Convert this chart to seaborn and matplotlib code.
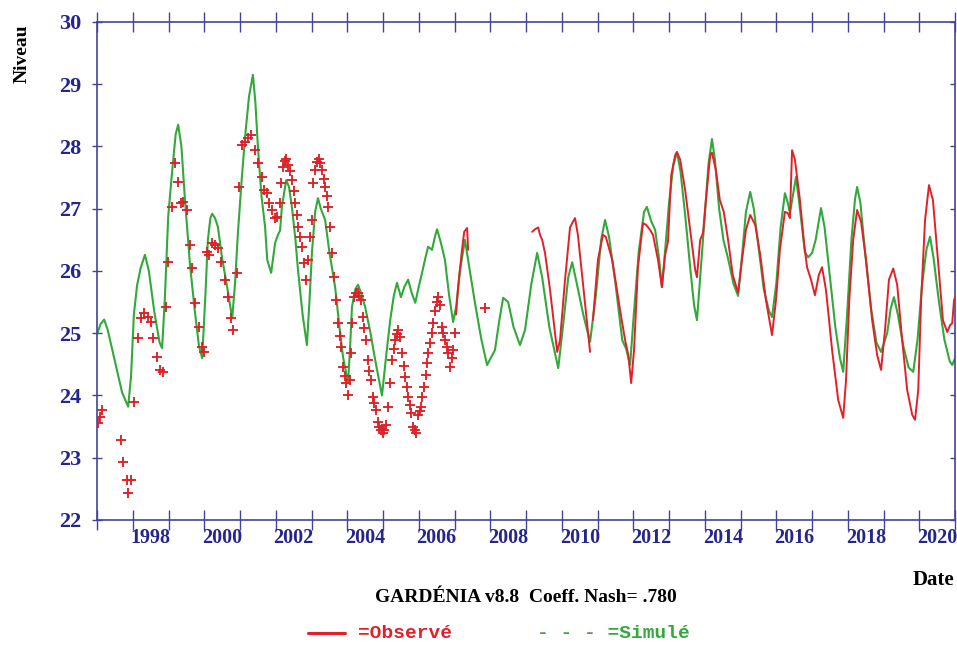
import numpy as np
import pandas as pd
import matplotlib
matplotlib.use("Agg")
import matplotlib.pyplot as plt
from matplotlib.lines import Line2D
from matplotlib.ticker import FixedLocator, NullFormatter
import seaborn as sns

# Simulated groundwater level (green line)
sim_year = [1997.00, 1997.10, 1997.20, 1997.30, 1997.50, 1997.70, 1997.87, 1997.95, 1998.03, 1998.12,
            1998.22, 1998.34, 1998.45, 1998.60, 1998.75, 1998.82, 1998.90, 1998.99, 1999.10, 1999.20,
            1999.27, 1999.36, 1999.46, 1999.60, 1999.74, 1999.85, 1999.94, 2000.03, 2000.10, 2000.17,
            2000.22, 2000.30, 2000.38, 2000.50, 2000.64, 2000.78, 2000.86, 2000.94, 2001.05, 2001.14,
            2001.25, 2001.36, 2001.43, 2001.50, 2001.60, 2001.70, 2001.76, 2001.87, 2001.98, 2002.06,
            2002.12, 2002.17, 2002.29, 2002.37, 2002.45, 2002.55, 2002.62, 2002.75, 2002.87, 2002.95,
            2003.01, 2003.10, 2003.18, 2003.26, 2003.38, 2003.50, 2003.66, 2003.78, 2003.88, 2004.02,
            2004.08, 2004.13, 2004.22, 2004.30, 2004.40, 2004.50, 2004.65, 2004.78, 2004.97, 2005.08,
            2005.20, 2005.30, 2005.39, 2005.50, 2005.60, 2005.70, 2005.80, 2005.90, 2006.00, 2006.09,
            2006.18, 2006.26, 2006.37, 2006.45, 2006.51, 2006.62, 2006.73, 2006.85, 2006.96, 2007.05,
            2007.15, 2007.29, 2007.40, 2007.57, 2007.75, 2007.91, 2008.13, 2008.25, 2008.36, 2008.50,
            2008.65, 2008.83, 2008.97, 2009.15, 2009.31, 2009.45, 2009.65, 2009.90, 2010.05, 2010.18,
            2010.29, 2010.40, 2010.60, 2010.79, 2010.95, 2011.10, 2011.21, 2011.32, 2011.50, 2011.69,
            2011.80, 2011.91, 2012.00, 2012.15, 2012.30, 2012.38, 2012.50, 2012.61, 2012.72, 2012.80,
            2012.90, 2013.00, 2013.12, 2013.22, 2013.32, 2013.45, 2013.60, 2013.70, 2013.78, 2013.87,
            2014.00, 2014.10, 2014.20, 2014.28, 2014.40, 2014.52, 2014.65, 2014.80, 2014.93, 2015.05,
            2015.15, 2015.27, 2015.37, 2015.50, 2015.65, 2015.80, 2015.88, 2016.00, 2016.12, 2016.24,
            2016.32, 2016.38, 2016.46, 2016.55, 2016.64, 2016.72, 2016.80, 2016.89, 2017.00, 2017.10,
            2017.25, 2017.35, 2017.50, 2017.65, 2017.78, 2017.87, 2017.98, 2018.10, 2018.20, 2018.26,
            2018.35, 2018.50, 2018.65, 2018.80, 2018.93, 2019.10, 2019.20, 2019.29, 2019.40, 2019.55,
            2019.70, 2019.83, 2019.95, 2020.08, 2020.20, 2020.30, 2020.40, 2020.55, 2020.70, 2020.85,
            2020.92, 2021.00]
sim_level = [24.98, 25.15, 25.22, 25.05, 24.55, 24.05, 23.82, 24.30, 25.30, 25.77,
             26.05, 26.26, 26.00, 25.35, 24.85, 24.76, 25.60, 26.87, 27.60, 28.20,
             28.35, 28.00, 27.14, 26.10, 25.33, 24.80, 24.60, 25.60, 26.50, 26.85,
             26.92, 26.85, 26.71, 26.20, 25.74, 25.24, 25.80, 26.61, 27.50, 28.15,
             28.80, 29.15, 28.70, 27.99, 27.20, 26.71, 26.18, 25.97, 26.45, 26.58,
             26.65, 27.03, 27.46, 27.35, 27.03, 26.50, 26.02, 25.30, 24.81, 25.60,
             26.29, 26.95, 27.17, 27.00, 26.82, 26.30, 25.74, 25.10, 24.62, 24.20,
             24.80, 25.42, 25.70, 25.78, 25.62, 25.42, 25.00, 24.57, 24.00, 24.60,
             25.21, 25.60, 25.81, 25.58, 25.75, 25.86, 25.65, 25.49, 25.75, 25.97,
             26.20, 26.39, 26.34, 26.55, 26.67, 26.45, 26.18, 25.60, 25.18, 25.45,
             26.00, 26.50, 26.10, 25.49, 24.90, 24.49, 24.73, 25.20, 25.57, 25.50,
             25.10, 24.81, 25.05, 25.80, 26.29, 25.90, 25.10, 24.44, 25.20, 25.90,
             26.14, 25.85, 25.30, 24.86, 25.60, 26.50, 26.82, 26.55, 25.80, 24.89,
             24.75, 24.49, 25.20, 26.30, 26.95, 27.03, 26.80, 26.66, 26.20, 25.74,
             26.40, 27.10, 27.70, 27.91, 27.60, 26.90, 26.00, 25.45, 25.21, 25.90,
             26.90, 27.70, 28.12, 27.80, 27.00, 26.50, 26.20, 25.80, 25.60, 26.30,
             26.95, 27.27, 27.00, 26.40, 25.70, 25.35, 25.26, 25.80, 26.70, 27.25,
             27.10, 26.93, 27.20, 27.51, 27.10, 26.70, 26.30, 26.22, 26.29, 26.50,
             27.01, 26.70, 25.90, 25.10, 24.60, 24.38, 25.30, 26.50, 27.15, 27.35,
             27.10, 26.20, 25.40, 24.85, 24.70, 25.00, 25.40, 25.58, 25.30, 24.80,
             24.45, 24.38, 24.90, 25.80, 26.35, 26.55, 26.20, 25.50, 24.90, 24.55,
             24.49, 24.60]

# Observed levels, individual measurements ('+')
obs_pts_year = [1997.03, 1997.08, 1997.14, 1997.67, 1997.73, 1997.84, 1997.87, 1997.95, 1998.03, 1998.15,
                1998.23, 1998.31, 1998.43, 1998.51, 1998.57, 1998.68, 1998.76, 1998.85, 1998.93, 1998.99,
                1999.10, 1999.18, 1999.27, 1999.35, 1999.41, 1999.52, 1999.60, 1999.66, 1999.74, 1999.85,
                1999.94, 1999.99, 2000.08, 2000.13, 2000.22, 2000.30, 2000.38, 2000.47, 2000.58, 2000.66,
                2000.75, 2000.80, 2000.92, 2000.97, 2001.06, 2001.14, 2001.22, 2001.31, 2001.42, 2001.50,
                2001.62, 2001.67, 2001.76, 2001.81, 2001.90, 2001.98, 2002.03, 2002.12, 2002.15, 2002.20,
                2002.25, 2002.29, 2002.34, 2002.40, 2002.45, 2002.50, 2002.54, 2002.58, 2002.62, 2002.68,
                2002.73, 2002.79, 2002.85, 2002.90, 2002.96, 2003.01, 2003.04, 2003.10, 2003.15, 2003.21,
                2003.25, 2003.29, 2003.34, 2003.38, 2003.42, 2003.46, 2003.52, 2003.57, 2003.63, 2003.69,
                2003.74, 2003.79, 2003.83, 2003.88, 2003.93, 2003.97, 2004.02, 2004.08, 2004.10, 2004.13,
                2004.19, 2004.25, 2004.30, 2004.34, 2004.38, 2004.44, 2004.48, 2004.52, 2004.58, 2004.62,
                2004.66, 2004.72, 2004.76, 2004.80, 2004.86, 2004.90, 2004.94, 2005.00, 2005.04, 2005.08,
                2005.14, 2005.20, 2005.25, 2005.30, 2005.34, 2005.38, 2005.42, 2005.48, 2005.53, 2005.58,
                2005.62, 2005.66, 2005.70, 2005.74, 2005.78, 2005.84, 2005.88, 2005.92, 2005.98, 2006.02,
                2006.06, 2006.10, 2006.15, 2006.19, 2006.23, 2006.27, 2006.31, 2006.36, 2006.40, 2006.45,
                2006.51, 2006.54, 2006.60, 2006.65, 2006.69, 2006.73, 2006.78, 2006.82, 2006.87, 2006.92,
                2006.96, 2007.01, 2007.85]
obs_pts_level = [23.56, 23.65, 23.77, 23.29, 22.93, 22.64, 22.43, 22.64, 23.90, 24.92,
                 25.24, 25.33, 25.26, 25.18, 24.92, 24.62, 24.41, 24.38, 25.42, 26.14,
                 27.03, 27.73, 27.43, 27.09, 27.11, 26.98, 26.42, 26.05, 25.49, 25.10,
                 24.78, 24.70, 26.31, 26.26, 26.45, 26.42, 26.37, 26.14, 25.86, 25.58,
                 25.24, 25.05, 25.97, 27.35, 28.02, 28.07, 28.14, 28.18, 27.94, 27.73,
                 27.51, 27.30, 27.25, 27.09, 26.98, 26.85, 26.87, 27.09, 27.41, 27.67,
                 27.76, 27.80, 27.70, 27.60, 27.46, 27.28, 27.09, 26.90, 26.70, 26.55,
                 26.39, 26.13, 25.86, 26.18, 26.55, 26.82, 27.41, 27.62, 27.75, 27.80,
                 27.74, 27.62, 27.48, 27.35, 27.20, 27.03, 26.70, 26.29, 25.90, 25.53,
                 25.16, 24.95, 24.78, 24.46, 24.32, 24.20, 24.01, 24.25, 24.68, 25.16,
                 25.58, 25.64, 25.65, 25.60, 25.53, 25.26, 25.08, 24.89, 24.57, 24.40,
                 24.25, 23.98, 23.88, 23.77, 23.57, 23.50, 23.45, 23.40, 23.45, 23.53,
                 23.82, 24.20, 24.57, 24.75, 24.89, 24.98, 25.05, 24.94, 24.68, 24.48,
                 24.30, 24.14, 23.98, 23.85, 23.72, 23.49, 23.44, 23.40, 23.69, 23.75,
                 23.82, 23.98, 24.14, 24.33, 24.52, 24.68, 24.84, 25.00, 25.16, 25.35,
                 25.50, 25.58, 25.45, 25.10, 25.00, 24.89, 24.78, 24.68, 24.46, 24.60,
                 24.73, 25.00, 25.41]

# Observed levels, continuous records (red line), three pieces
obs_a_year = [2007.04, 2007.10, 2007.20, 2007.27, 2007.35, 2007.38]
obs_a_level = [25.30, 25.74, 26.30, 26.63, 26.69, 26.34]

obs_b_year = [2009.17, 2009.25, 2009.34, 2009.39, 2009.45, 2009.53, 2009.67, 2009.87, 2009.95, 2010.09,
              2010.23, 2010.31, 2010.37, 2010.45, 2010.64, 2010.79]
obs_b_level = [26.63, 26.67, 26.70, 26.58, 26.50, 26.29, 25.70, 24.70, 24.89, 25.86,
               26.70, 26.79, 26.85, 26.58, 25.53, 24.70]

obs_c_year = [2010.87, 2011.01, 2011.15, 2011.23, 2011.41, 2011.63, 2011.77, 2011.86, 2011.94, 2012.02,
              2012.13, 2012.27, 2012.36, 2012.47, 2012.55, 2012.69, 2012.80, 2012.89, 2012.97, 2013.06,
              2013.17, 2013.22, 2013.31, 2013.45, 2013.59, 2013.73, 2013.78, 2013.87, 2013.95, 2014.03,
              2014.15, 2014.20, 2014.31, 2014.42, 2014.53, 2014.65, 2014.78, 2014.93, 2015.04, 2015.15,
              2015.27, 2015.41, 2015.55, 2015.71, 2015.88, 2015.99, 2016.10, 2016.24, 2016.32, 2016.38,
              2016.44, 2016.52, 2016.66, 2016.78, 2016.86, 2016.97, 2017.08, 2017.19, 2017.28, 2017.39,
              2017.56, 2017.73, 2017.87, 2017.95, 2018.04, 2018.15, 2018.26, 2018.37, 2018.51, 2018.68,
              2018.82, 2018.93, 2019.04, 2019.15, 2019.27, 2019.38, 2019.52, 2019.66, 2019.80, 2019.88,
              2019.97, 2020.05, 2020.16, 2020.27, 2020.38, 2020.52, 2020.66, 2020.78, 2020.86, 2020.92,
              2020.97, 2021.00]
obs_c_level = [25.21, 26.18, 26.58, 26.55, 26.18, 25.37, 24.89, 24.65, 24.20, 24.73,
               26.06, 26.77, 26.74, 26.66, 26.58, 26.18, 25.74, 26.26, 26.47, 27.54,
               27.86, 27.91, 27.79, 27.30, 26.66, 26.02, 25.90, 26.50, 26.61, 27.14,
               27.86, 27.90, 27.62, 27.14, 26.95, 26.50, 25.94, 25.65, 26.18, 26.66,
               26.90, 26.74, 26.26, 25.53, 24.97, 25.53, 26.34, 26.95, 26.93, 26.85,
               27.94, 27.79, 27.14, 26.42, 26.06, 25.86, 25.61, 25.94, 26.06, 25.69,
               24.73, 23.93, 23.64, 24.25, 25.53, 26.50, 26.98, 26.79, 26.18, 25.21,
               24.65, 24.41, 25.05, 25.86, 26.04, 25.78, 24.89, 24.09, 23.69, 23.61,
               24.09, 25.53, 26.82, 27.38, 27.14, 26.18, 25.21, 25.02, 25.13, 25.16,
               25.53, 25.58]

x_label_years = list(range(1998, 2021, 2))

RED = "#e2202a"
GREEN = "#33a83b"
AXIS_COL = "#43439a"
LABEL_COL = "#25258c"

obs_line = pd.concat([
    pd.DataFrame({"year": obs_a_year, "level": obs_a_level, "seg": 0}),
    pd.DataFrame({"year": obs_b_year, "level": obs_b_level, "seg": 1}),
    pd.DataFrame({"year": obs_c_year, "level": obs_c_level, "seg": 2}),
])

sns.set_style("white")
plt.rcParams["font.family"] = ["Liberation Serif", "DejaVu Serif"]

fig = plt.figure(figsize=(9.57, 6.45), dpi=100)
ax = fig.add_axes([0.1014, 0.1938, 0.8966, 0.7721])

sns.lineplot(x=sim_year, y=sim_level, color=GREEN, linewidth=1.5, ax=ax, zorder=2)
sns.lineplot(data=obs_line, x="year", y="level", units="seg", estimator=None,
             color=RED, linewidth=1.4, ax=ax, zorder=3)
sns.scatterplot(x=obs_pts_year, y=obs_pts_level, marker="+", s=45, color="#dc2228",
                linewidth=1.35, ax=ax, zorder=4)

ax.set_xlim(1997, 2021)
ax.set_ylim(22, 30)
ax.set_xlabel("")
ax.set_ylabel("")

# year ticks every year, labels centred in even years
ax.xaxis.set_major_locator(FixedLocator(np.arange(1997, 2022)))
ax.xaxis.set_major_formatter(NullFormatter())
ax.set_xticks([y + 0.5 for y in x_label_years], minor=True)
ax.set_xticklabels([str(y) for y in x_label_years], minor=True)
ax.tick_params(axis="x", which="major", direction="inout", length=14, width=1,
               color=AXIS_COL, top=True, bottom=True)
ax.tick_params(axis="x", which="minor", length=0, pad=6, labelsize=14.5, labelcolor=LABEL_COL)

ax.set_yticks(range(22, 31))
ax.tick_params(axis="y", direction="inout", length=6.5, width=1, color=AXIS_COL,
               left=True, right=False, pad=8, labelsize=16, labelcolor=LABEL_COL)
for lab in ax.get_xticklabels(minor=True) + ax.get_yticklabels():
    lab.set_fontweight("bold")

for sp in ax.spines.values():
    sp.set_color(AXIS_COL)
    sp.set_linewidth(1.2)

# inward ticks on the right side
ax2 = ax.twinx()
ax2.set_ylim(22, 30)
ax2.set_yticks(range(22, 31))
ax2.tick_params(axis="y", direction="in", length=3.6, width=1, color=AXIS_COL, labelright=False)
for sp in ax2.spines.values():
    sp.set_visible(False)

fig.text(0.023, 0.916, "Niveau", rotation=90, ha="center", va="center",
         fontsize=14, fontweight="bold", color="black")
fig.text(0.975, 0.101, "Date", ha="center", va="center",
         fontsize=15, fontweight="bold", color="black")
fig.text(0.5496, 0.073, "GARDÉNIA v8.8  Coeff. Nash= .780", ha="center", va="center",
         fontsize=14, fontweight="bold", color="black")

mono = ["Liberation Mono", "DejaVu Sans Mono"]
fig.add_artist(Line2D([0.322, 0.3605], [0.0186, 0.0186], transform=fig.transFigure,
                      color=RED, linewidth=2.2))
fig.text(0.374, 0.0186, "=Observé", family=mono, fontweight="bold", color=RED,
         fontsize=14, va="center", ha="left")
fig.text(0.561, 0.0186, "- - - =Simulé", family=mono, fontweight="bold", color=GREEN,
         fontsize=14, va="center", ha="left")

fig.savefig("out.png", dpi=100)
